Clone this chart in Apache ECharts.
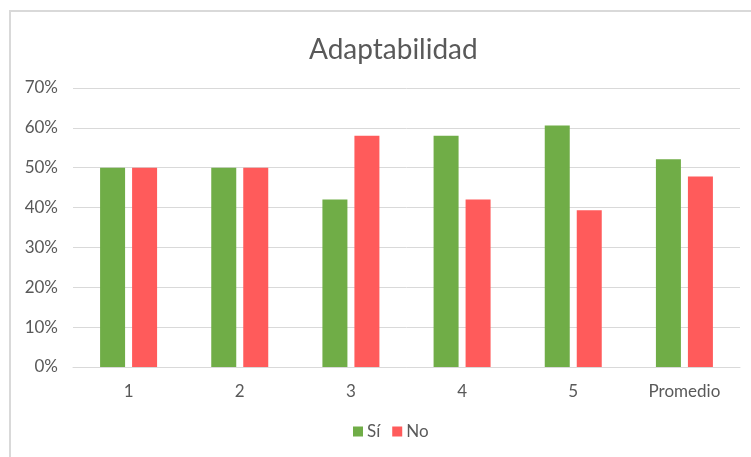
<!DOCTYPE html>
<html>
<head>
<meta charset="utf-8">
<script src="https://cdn.jsdelivr.net/npm/echarts@6/dist/echarts.min.js"></script>
<style>
  html, body { margin: 0; padding: 0; background: #fff; }
  #chart { width: 751px; height: 457px; }
</style>
</head>
<body>
<div id="chart"></div>
<script>
// datos
const categories = ['1', '2', '3', '4', '5', 'Promedio'];
const siValues = [50, 50, 42, 58, 60.6, 52.1];
const noValues = [50, 50, 58, 42, 39.3, 47.8];
const seriesNames = ['Sí', 'No'];

const chart = echarts.init(document.getElementById('chart'));
const textColor = '#595959';
const font = 'Lato, "Open Sans", sans-serif';

chart.setOption({
  animation: false,
  textStyle: { fontFamily: font },
  title: {
    text: 'Adaptabilidad',
    left: 304,
    top: 31,
    textStyle: { fontFamily: font, fontSize: 28, fontWeight: 'normal', color: textColor }
  },
  legend: {
    bottom: 12,
    left: 348,
    itemWidth: 10,
    itemHeight: 10,
    itemGap: 12,
    icon: 'rect',
    textStyle: { fontFamily: font, fontSize: 17, color: textColor, padding: [0, 0, 0, -1] },
    data: seriesNames
  },
  grid: { left: 73, right: 11, top: 88, bottom: 90, containLabel: false },
  xAxis: {
    type: 'category',
    data: categories,
    axisTick: { show: false },
    axisLine: { lineStyle: { color: '#d9d9d9', width: 1 } },
    axisLabel: { fontFamily: font, fontSize: 17, color: textColor, margin: 16 }
  },
  yAxis: {
    type: 'value',
    min: 0,
    max: 70,
    interval: 10,
    axisLine: { show: false },
    axisTick: { show: false },
    splitLine: { lineStyle: { color: '#d9d9d9', width: 1 } },
    axisLabel: { fontFamily: font, fontSize: 17, color: textColor, margin: 15, formatter: '{value}%' }
  },
  series: [
    {
      name: seriesNames[0],
      type: 'bar',
      data: siValues,
      barWidth: 25,
      barGap: '28%',
      itemStyle: { color: '#70AD47' }
    },
    {
      name: seriesNames[1],
      type: 'bar',
      data: noValues,
      barWidth: 25,
      itemStyle: { color: '#FF5B5B' }
    }
  ],
  graphic: [{
    type: 'rect',
    shape: { x: 10, y: 11, width: 760, height: 460 },
    style: { fill: 'none', stroke: '#d9d9d9', lineWidth: 2 },
    silent: true
  }]
});
</script>
</body>
</html>
